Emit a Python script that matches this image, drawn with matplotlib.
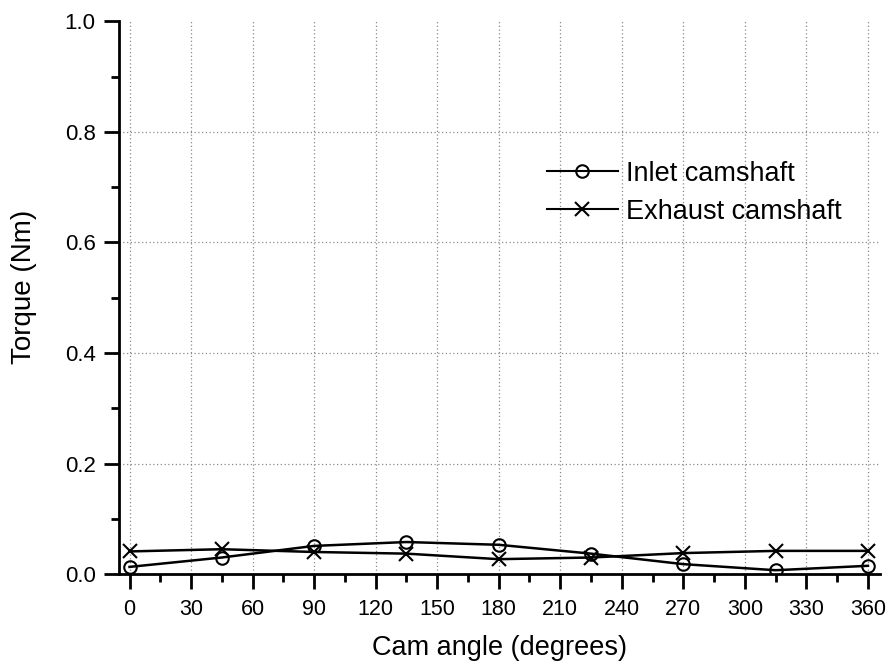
import matplotlib
matplotlib.use("Agg")
import matplotlib.pyplot as plt
from matplotlib.ticker import MultipleLocator, FormatStrFormatter

plt.rcParams['font.family'] = ['Liberation Sans', 'DejaVu Sans']

cam_angle = [0, 45, 90, 135, 180, 225, 270, 315, 360]
inlet = [0.013, 0.030, 0.051, 0.058, 0.053, 0.037, 0.018, 0.007, 0.015]
exhaust = [0.041, 0.045, 0.040, 0.037, 0.027, 0.030, 0.038, 0.042, 0.042]
x_ticks = [0, 30, 60, 90, 120, 150, 180, 210, 240, 270, 300, 330, 360]
y_ticks = [0.0, 0.2, 0.4, 0.6, 0.8, 1.0]

fig = plt.figure(figsize=(8.9, 6.66), dpi=100)
ax = fig.add_axes([0.134, 0.138, 0.855, 0.830])

ax.plot(cam_angle, inlet, color='black', lw=1.8, marker='o', ms=9,
        mfc='none', mec='black', mew=1.5, label='Inlet camshaft')
ax.plot(cam_angle, exhaust, color='black', lw=1.8, marker='x', ms=10,
        mec='black', mew=1.5, label='Exhaust camshaft')

ax.set_xlim(-5, 366)
ax.set_ylim(0, 1.0)
ax.set_xticks(x_ticks)
ax.set_yticks(y_ticks)
ax.xaxis.set_minor_locator(MultipleLocator(15))
ax.yaxis.set_minor_locator(MultipleLocator(0.1))
ax.yaxis.set_major_formatter(FormatStrFormatter('%.1f'))

for s in ['top', 'right']:
    ax.spines[s].set_visible(False)
for s in ['left', 'bottom']:
    ax.spines[s].set_linewidth(2)

ax.tick_params(which='major', direction='out', length=11, width=2)
ax.tick_params(which='minor', direction='out', length=6, width=2)
ax.tick_params(axis='x', which='major', labelsize=15.5, pad=7)
ax.tick_params(axis='y', which='major', labelsize=16, pad=6)

for xv in x_ticks:
    ax.axvline(xv, color='#8a8a8a', lw=0.9, ls=(0, (1, 2)), zorder=0)
for yv in y_ticks[1:-1]:
    ax.axhline(yv, color='#8a8a8a', lw=0.9, ls=(0, (1, 2)), zorder=0)

ax.set_xlabel('Cam angle (degrees)', fontsize=19.5)
ax.set_ylabel('Torque (Nm)', fontsize=20)
ax.xaxis.set_label_coords(0.5, -0.110)
ax.yaxis.set_label_coords(-0.108, 0.52)

leg = ax.legend(loc='center', bbox_to_anchor=(0.756, 0.690), frameon=False,
                fontsize=19.5, handlelength=2.6, handletextpad=0.32,
                labelspacing=0.45)
for line in leg.get_lines():
    line.set_linewidth(1.5)

fig.savefig('out.png', dpi=100)
